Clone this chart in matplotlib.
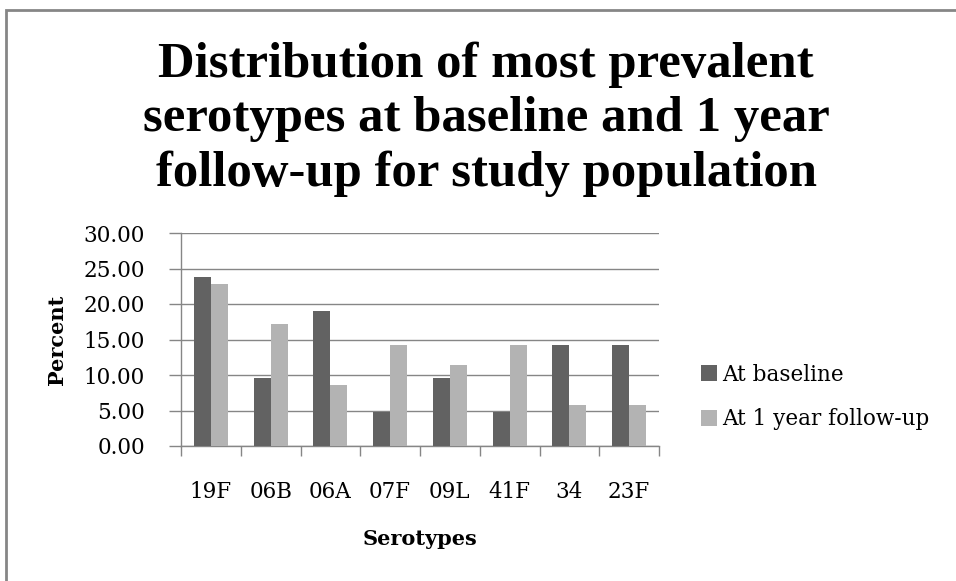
import matplotlib
matplotlib.use("Agg")
import matplotlib.pyplot as plt
from matplotlib.patches import Rectangle
import numpy as np

# Serotype distribution (percent of isolates)
serotypes = ["19F", "06B", "06A", "07F", "09L", "41F", "34", "23F"]
at_baseline = [23.81, 9.52, 19.05, 4.76, 9.52, 4.76, 14.29, 14.29]
at_followup = [22.86, 17.14, 8.57, 14.29, 11.43, 14.29, 5.71, 5.71]
series_names = ["At baseline", "At 1 year follow-up"]
yticks = [0, 5, 10, 15, 20, 25, 30]
title_lines = ["Distribution of most prevalent",
               "serotypes at baseline and 1 year",
               "follow-up for study population"]

W, H = 956, 581
fig = plt.figure(figsize=(W / 100, H / 100), dpi=100)
fig.patch.set_facecolor("white")

# chart-area frame (runs off the right and bottom edges)
fig.patches.append(Rectangle((6 / W, -0.05), 1.2, 1 - 10 / H + 0.05,
                             transform=fig.transFigure, fill=False,
                             edgecolor="#868686", linewidth=2))

ax = fig.add_axes([181 / W, 1 - 446 / H, (659 - 181) / W, (446 - 233) / H])

dark = "#626262"
light = "#b3b3b3"
grid = "#868686"
x = np.arange(len(serotypes))
bw = 0.283
ax.bar(x - bw / 2, at_baseline, bw, color=dark, label=series_names[0], zorder=3)
ax.bar(x + bw / 2, at_followup, bw, color=light, label=series_names[1], zorder=3)

ax.set_xlim(-0.5, len(serotypes) - 0.5)
ax.set_ylim(0, 30)
ax.set_yticks(yticks)
ax.set_yticklabels([f"{v:.2f}" for v in yticks], fontfamily="DejaVu Serif",
                   fontsize=15.5)
ax.yaxis.grid(True, color=grid, linewidth=1)
ax.set_axisbelow(True)

ax.set_xticks(np.arange(-0.5, len(serotypes), 1.0))
ax.set_xticklabels([])
ax.set_xticks(x, minor=True)
ax.set_xticklabels(serotypes, minor=True, fontfamily="DejaVu Serif", fontsize=15.5)
ax.tick_params(axis="x", which="major", length=7, width=1, color=grid,
               direction="out")
ax.tick_params(axis="x", which="minor", length=0, pad=25)
ax.tick_params(axis="y", length=9, width=1, color=grid, pad=17)

for s in ["top", "right"]:
    ax.spines[s].set_visible(False)
for s in ["left", "bottom"]:
    ax.spines[s].set_color(grid)
    ax.spines[s].set_linewidth(1)

ax.set_xlabel("Serotypes", fontfamily="DejaVu Serif", fontweight="bold",
              fontsize=15, labelpad=19)
ax.set_ylabel("Percent", fontfamily="DejaVu Serif", fontweight="bold",
              fontsize=15, labelpad=12)

leg = ax.legend(loc="center left", bbox_to_anchor=(1.048, 0.23), frameon=False,
                prop={"family": "DejaVu Serif", "size": 15.5},
                handlelength=0.75, handleheight=0.75, handletextpad=0.2,
                labelspacing=1.05)

# title, one line at a time
baselines = [77, 131, 186]
for line, yb in zip(title_lines, baselines):
    fig.text(486 / W, 1 - yb / H, line, ha="center", va="baseline",
             fontfamily="Liberation Serif", fontweight="bold", fontsize=36.5)

fig.savefig("out.png", dpi=100, facecolor="white")
